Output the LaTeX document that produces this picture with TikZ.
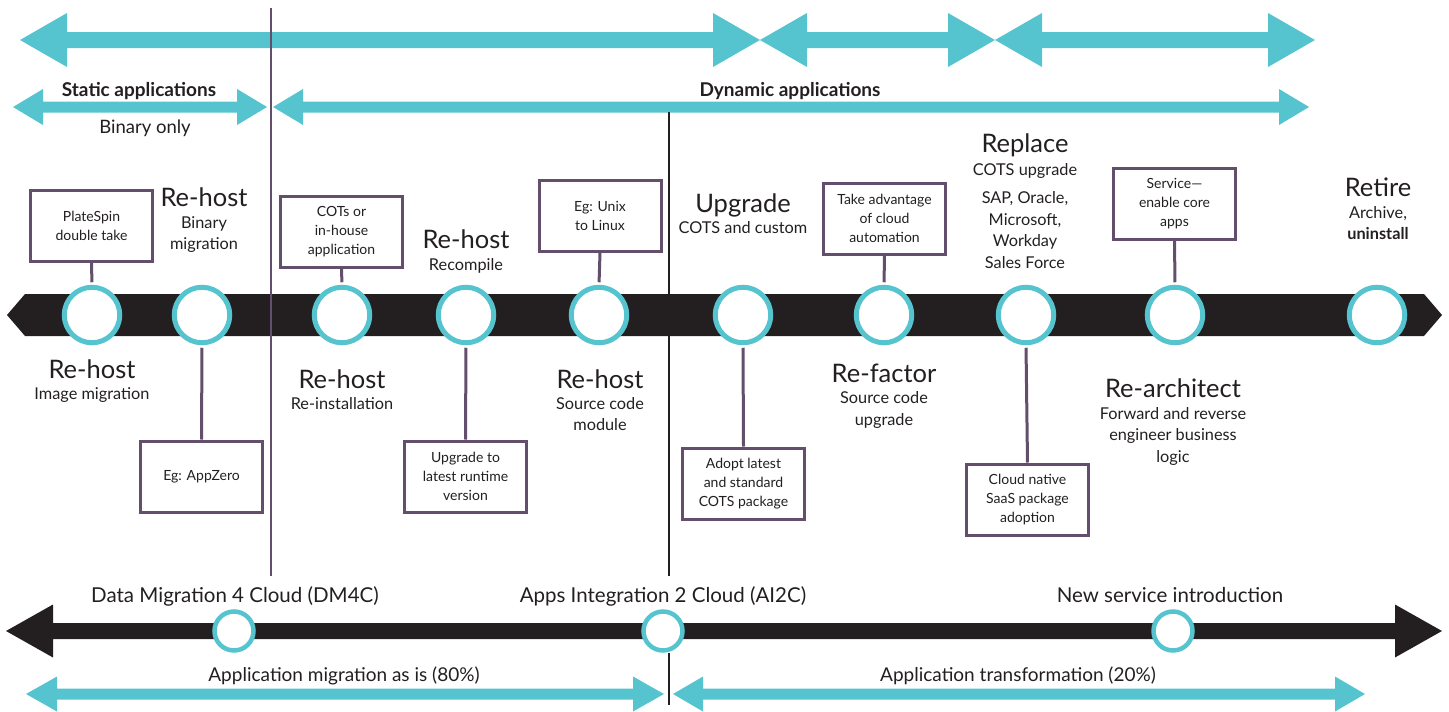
\documentclass[tikz,border=0pt]{standalone}
\usepackage{fontspec}
\setmainfont{Lato}
\definecolor{lanecyan}{RGB}{86,196,207}
\definecolor{bandblack}{RGB}{35,31,32}
\definecolor{boxpurple}{RGB}{99,78,108}
\definecolor{inkdark}{RGB}{35,31,32}

% double-headed block arrow: style, left tip x, right tip x, y, head length, half head, half shaft
\newcommand{\twowayarrow}[7]{%
  \fill[#1] (#2,#4) -- ({#2+#5},{#4-#6}) -- ({#2+#5},{#4-#7}) -- ({#3-#5},{#4-#7})
    -- ({#3-#5},{#4-#6}) -- (#3,#4) -- ({#3-#5},{#4+#6}) -- ({#3-#5},{#4+#7})
    -- ({#2+#5},{#4+#7}) -- ({#2+#5},{#4+#6}) -- cycle;}

\tikzset{
  ring/.style={circle, draw=lanecyan, line width=5pt, fill=white, minimum size=55.5pt, inner sep=0pt},
  smallring/.style={circle, draw=lanecyan, line width=4.5pt, fill=white, minimum size=39pt, inner sep=0pt},
  infobox/.style={draw=boxpurple, line width=3pt, fill=white, minimum width=122pt, minimum height=71pt,
    align=center, font=\fontsize{14}{19}\selectfont, text=inkdark, inner sep=0pt},
  link/.style={draw=boxpurple, line width=3pt, shorten >=2.5pt},
  divider/.style={line width=2.2pt},
  steptitle/.style={font=\fontsize{25.5}{27}\selectfont, text=inkdark, anchor=base, inner sep=0pt},
  % multi-line sub-labels are placed by the baseline of their last line
  stepsub/.style={font=\fontsize{16.3}{21.5}\selectfont, text=inkdark, align=center, anchor=base, inner sep=0pt},
  lanelabel/.style={font=\fontsize{18.5}{22}\selectfont, text=inkdark, anchor=base, inner sep=0pt},
  lanehead/.style={font=\fontsize{19}{22}\selectfont\bfseries, text=inkdark, anchor=base, inner sep=0pt},
  phaselabel/.style={font=\fontsize{20.5}{24}\selectfont, text=inkdark, anchor=base, inner sep=0pt},
  sharelabel/.style={font=\fontsize{19}{22}\selectfont, text=inkdark, anchor=base, inner sep=0pt},
}

\begin{document}
\begin{tikzpicture}[x=1pt, y=-1pt]
\useasboundingbox (0,0) rectangle (1449,712);

% top lanes
\twowayarrow{lanecyan}{20}{760}{40}{47}{27}{8}
\twowayarrow{lanecyan}{760}{995}{40}{47}{27}{8}
\twowayarrow{lanecyan}{995}{1315}{40}{47}{27}{8}
\twowayarrow{lanecyan}{13}{267}{107}{30}{18}{5.5}
\twowayarrow{lanecyan}{273}{1309}{107}{30}{18}{5.5}

\node[lanehead] (static) at (139,96) {Static applications};
\node[lanelabel] (binary) at (145,133) {Binary only};
\node[lanehead] (dynamic) at (790,96) {Dynamic applications};

% main timeline band
\fill[bandblack] (7,315) -- (25,294) -- (1424,294) -- (1442,315) -- (1424,336) -- (25,336) -- cycle;

% bottom timeline and phase arrows
\twowayarrow{bandblack}{6}{1442}{631}{47}{26.5}{8}
\twowayarrow{lanecyan}{26}{664}{694}{31}{17.5}{5.5}
\twowayarrow{lanecyan}{673}{1365}{694}{30}{17.5}{5.5}

% dividers
\coordinate (pdtop) at (271,8);
\coordinate (pdbot) at (271,576);
\coordinate (bdtop) at (669,112);
\coordinate (bdmid) at (669,576);
\coordinate (bdbot) at (669,705);
\draw[divider, boxpurple] (pdtop) -- (pdbot);
\draw[divider, bandblack] (bdtop) -- (bdmid);

% milestones on the main band
\node[ring] (c1) at (92,315) {};
\node[ring] (c2) at (202,315) {};
\node[ring] (c3) at (342,315) {};
\node[ring] (c4) at (466,315) {};
\node[ring] (c5) at (599,315) {};
\node[ring] (c6) at (743,315) {};
\node[ring] (c7) at (884,315) {};
\node[ring] (c8) at (1026,315) {};
\node[ring] (c9) at (1175,315) {};
\node[ring] (c10) at (1377,315) {};

% milestones on the bottom timeline
\node[smallring] (dm) at (234,631) {};
\node[smallring] (ai) at (663,631) {};
\node[smallring] (ns) at (1173,631) {};
\draw[divider, bandblack] (ai.south -| bdbot) -- (bdbot);

% detail boxes
\node[infobox] (b1) at (91.5,226) {PlateSpin\\double take};
\node[infobox] (b2) at (201.5,476.5) {Eg: AppZero};
\node[infobox] (b3) at (341.5,232) {COTs or\\in-house\\application};
\node[infobox] (b4) at (465.5,476.5) {Upgrade to\\latest runtime\\version};
\node[infobox] (b5) at (600,216) {Eg: Unix\\to Linux};
\node[infobox] (b6) at (743.5,483.5) {Adopt latest\\and standard\\COTS package};
\node[infobox] (b7) at (884.5,218.5) {Take advantage\\of cloud\\automation};
\node[infobox] (b8) at (1027.5,499.5) {Cloud native\\SaaS package\\adoption};
\node[infobox] (b9) at (1174.5,203.5) {Service---\\enable core\\apps};

\draw[link] (b1.south) -- (c1.north);
\draw[link] (b2.north) -- (c2.south);
\draw[link] (b3.south) -- (c3.north);
\draw[link] (b4.north) -- (c4.south);
\draw[link] (b5.south) -- (c5.north);
\draw[link] (b6.north) -- (c6.south);
\draw[link] (b7.south) -- (c7.north);
\draw[link] (b8.north) -- (c8.south);
\draw[link] (b9.south) -- (c9.north);

% step labels
\node[steptitle] (t1) at (92,378) {Re-host};
\node[stepsub] (s1) at (92,399) {Image migration};
\node[steptitle] (t2) at (204,206.7) {Re-host};
\node[stepsub] (s2) at (204,249.5) {Binary\\migration};
\node[steptitle] (t3) at (342,388) {Re-host};
\node[stepsub] (s3) at (342,409) {Re-installation};
\node[steptitle] (t4) at (466,248) {Re-host};
\node[stepsub] (s4) at (466,270) {Recompile};
\node[steptitle] (t5) at (600,388) {Re-host};
\node[stepsub] (s5) at (600,430.5) {Source code\\module};
\node[steptitle] (t6) at (743,212) {Upgrade};
\node[stepsub] (s6) at (743,233) {COTS and custom};
\node[steptitle] (t7) at (884,382) {Re-factor};
\node[stepsub] (s7) at (884,425) {Source code\\upgrade};
\node[steptitle] (t8) at (1025,152) {Replace};
\node[stepsub] (s8) at (1025,175) {COTS upgrade};
\node[stepsub] (s8b) at (1025,268) {SAP, Oracle,\\Microsoft,\\Workday\\Sales Force};
\node[steptitle] (t9) at (1173,397) {Re-architect};
\node[stepsub] (s9) at (1173,462) {Forward and reverse\\engineer business\\logic};
\node[steptitle] (t10) at (1378,196) {Retire};
\node[stepsub] (s10) at (1378,239.5) {Archive,\\\textbf{uninstall}};

% bottom labels
\node[phaselabel] (ldm) at (235,602) {Data Migration 4 Cloud (DM4C)};
\node[phaselabel] (lai) at (663,602) {Apps Integration 2 Cloud (AI2C)};
\node[phaselabel] (lns) at (1170,602) {New service introduction};
\node[sharelabel] (lmig) at (344,681) {Application migration as is (80\%)};
\node[sharelabel] (ltr) at (1018,681) {Application transformation (20\%)};
\end{tikzpicture}
\end{document}
